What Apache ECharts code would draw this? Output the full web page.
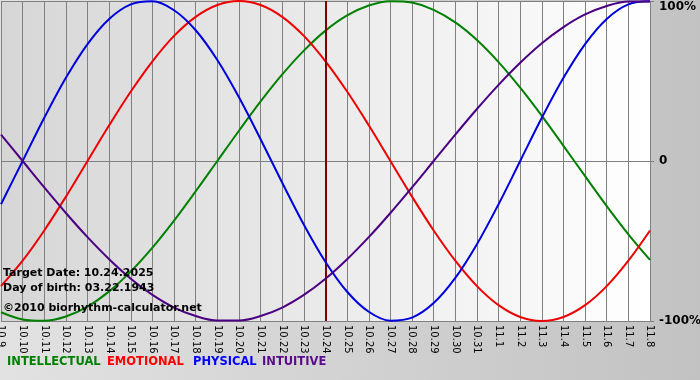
<!DOCTYPE html>
<html><head><meta charset="utf-8">
<style>html,body{margin:0;padding:0;}#c{width:700px;height:380px;background:linear-gradient(to right,#e2e2e2,#c2c2c2);}</style>
<script src="https://cdn.jsdelivr.net/npm/echarts@6/dist/echarts.min.js"></script>
</head><body><div id="c"></div>
<script>
const days = ['10.9','10.10','10.11','10.12','10.13','10.14','10.15','10.16','10.17','10.18','10.19','10.20','10.21','10.22','10.23','10.24','10.25','10.26','10.27','10.28','10.29','10.30','10.31','11.1','11.2','11.3','11.4','11.5','11.6','11.7','11.8'];
const intellectual = [-94.5,-99.0,-99.9,-97.2,-91.0,-81.5,-69.0,-54.1,-37.2,-18.9,0,18.9,37.2,54.1,69.0,81.5,91.0,97.2,99.9,99.0,94.5,86.6,75.6,61.8,45.8,28.2,9.5,-9.5,-28.2,-45.8,-61.8];
const emotional = [-78.2,-62.3,-43.4,-22.3,0,22.3,43.4,62.3,78.2,90.1,97.5,100,97.5,90.1,78.2,62.3,43.4,22.3,0,-22.3,-43.4,-62.3,-78.2,-90.1,-97.5,-100,-97.5,-90.1,-78.2,-62.3,-43.4];
const physical = [-27.0,0,27.0,52.0,73.1,88.8,97.9,99.8,94.2,81.7,63.1,39.8,13.6,-13.6,-39.8,-63.1,-81.7,-94.2,-99.8,-97.9,-88.8,-73.1,-52.0,-27.0,0,27.0,52.0,73.1,88.8,97.9,99.8];
const intuitive = [16.5,0,-16.5,-32.5,-47.6,-61.4,-73.6,-83.7,-91.6,-96.9,-99.7,-99.7,-96.9,-91.6,-83.7,-73.6,-61.4,-47.6,-32.5,-16.5,0,16.5,32.5,47.6,61.4,73.6,83.7,91.6,96.9,99.7,99.7];
const targetDay = '10.24';
const yTicks = {'100':'100%','0':'0','-100':'-100%'};
const legendItems = [['INTELLECTUAL','#008000'],['EMOTIONAL','#ff0000'],['PHYSICAL','#0000ff'],['INTUITIVE','#5a0a8c']];
const infoLines = ['Target Date: 10.24.2025','Day of birth: 03.22.1943','©2010 biorhythm-calculator.net'];

const chart = echarts.init(document.getElementById('c'));
const F = 'Verdana, "DejaVu Sans", sans-serif';
function line(name, data, color, z){
  return {name, type:'line', data, smooth:0.35, symbol:'none', z,
    lineStyle:{color, width:2}, itemStyle:{color}};
}
const series = [
  line('INTELLECTUAL', intellectual, '#008000', 3),
  line('EMOTIONAL', emotional, '#ee0000', 4),
  line('PHYSICAL', physical, '#0000dd', 5),
  line('INTUITIVE', intuitive, '#4b0082', 6)
];
series[0].markLine = {symbol:'none', silent:true, label:{show:false},
  lineStyle:{color:'#800000', width:2, type:'solid'},
  data:[{xAxis: targetDay}]};
const graphics = [];
const lxs = [7,107,193,262];
legendItems.forEach((it,i)=>{
  graphics.push({type:'text', left:lxs[i], top:356, style:{text:it[0], fill:it[1], font:'bold 11.5px '+F}});
});
const iy = [268,283,303];
infoLines.forEach((t,i)=>{
  graphics.push({type:'text', left:3, top:iy[i], z:100, style:{text:t, fill:'#000', font:'bold 11px '+F}});
});
chart.setOption({
  animation:false,
  grid:{left:1, right:50, top:1, bottom:59, show:true, borderWidth:0, containLabel:false, outerBoundsMode:'none',
    backgroundColor:new echarts.graphic.LinearGradient(0,0,1,0,[{offset:0,color:'#d6d6d6'},{offset:1,color:'#ffffff'}])},
  xAxis:{type:'category', data:days, boundaryGap:false,
    axisLine:{show:false},
    axisTick:{show:true, length:6, lineStyle:{color:'#808080'}},
    splitLine:{show:true, lineStyle:{color:'#808080', width:1}},
    axisLabel:{rotate:-90, interval:0, color:'#000', fontSize:10, fontFamily:F, margin:4}},
  yAxis:{type:'value', min:-100, max:100, interval:100, position:'right',
    axisLine:{show:false},
    axisTick:{show:true, length:4, lineStyle:{color:'#808080'}},
    splitLine:{show:true, lineStyle:{color:'#808080', width:1}},
    axisLabel:{color:'#000', fontWeight:'bold', fontSize:12, fontFamily:F, margin:9,
      verticalAlignMaxLabel:'top',
      formatter:v=>yTicks[String(v)]}},
  series,
  graphic:graphics
});
</script></body></html>
